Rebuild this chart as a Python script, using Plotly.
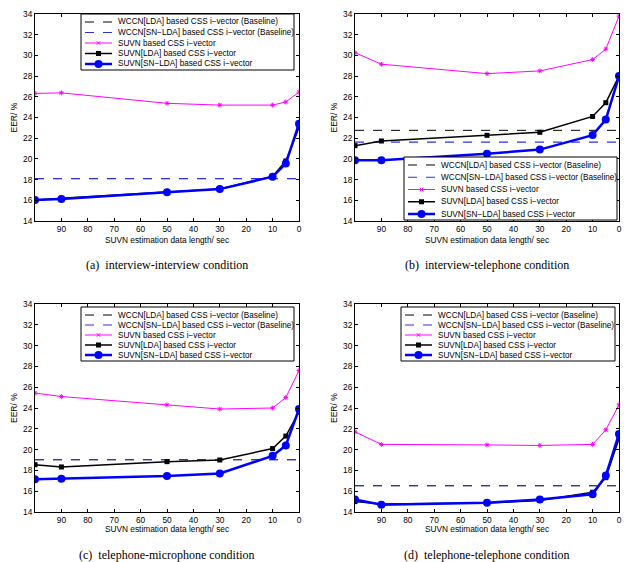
import plotly.graph_objects as go

x = [100, 90, 50, 30, 10, 5, 0]
xticks = [90, 80, 70, 60, 50, 40, 30, 20, 10, 0]
yticks = [14, 16, 18, 20, 22, 24, 26, 28, 30, 32, 34]

names = [
    "WCCN[LDA] based CSS i\u2212vector (Baseline)",
    "WCCN[SN\u2212LDA] based CSS i\u2212vector (Baseline)",
    "SUVN based CSS i\u2212vector",
    "SUVN[LDA] based CSS i\u2212vector",
    "SUVN[SN\u2212LDA] based CSS i\u2212vector",
]

# (a) interview-interview
a_wccn_lda = 18.1
a_wccn_sn = 18.1
a_suvn = [26.33, 26.38, 25.37, 25.2, 25.2, 25.5, 26.45]
a_lda = [16.03, 16.2, 16.8, 17.1, 18.3, 19.8, 23.05]
a_sn = [16.03, 16.12, 16.78, 17.08, 18.28, 19.55, 23.4]

# (b) interview-telephone
b_wccn_lda = 22.76
b_wccn_sn = 21.63
b_suvn = [30.26, 29.15, 28.24, 28.5, 29.6, 30.6, 33.8]
b_lda = [21.28, 21.73, 22.28, 22.57, 24.1, 25.43, 28.0]
b_sn = [19.86, 19.86, 20.5, 20.9, 22.3, 23.8, 28.0]

# (c) telephone-microphone
c_wccn_lda = 19.03
c_wccn_sn = 19.03
c_suvn = [25.44, 25.1, 24.3, 23.9, 24.0, 25.0, 27.6]
c_lda = [18.55, 18.33, 18.84, 19.0, 20.1, 21.3, 23.6]
c_sn = [17.14, 17.2, 17.46, 17.7, 19.4, 20.4, 23.9]

# (d) telephone-telephone
d_wccn_lda = 16.53
d_wccn_sn = 16.53
d_suvn = [21.7, 20.5, 20.45, 20.4, 20.5, 21.9, 24.3]
d_lda = [15.0, 14.77, 14.87, 15.1, 15.9, 17.3, 21.05]
d_sn = [15.2, 14.7, 14.9, 15.2, 15.7, 17.5, 21.5]

captions = [
    "(a)  interview-interview condition",
    "(b)  interview-telephone condition",
    "(c)  telephone-microphone condition",
    "(d)  telephone-telephone condition",
]
xtitle = "SUVN estimation data length/ sec"
ytitle = "EER/ %"

panels = [
    (a_wccn_lda, a_wccn_sn, a_suvn, a_lda, a_sn),
    (b_wccn_lda, b_wccn_sn, b_suvn, b_lda, b_sn),
    (c_wccn_lda, c_wccn_sn, c_suvn, c_lda, c_sn),
    (d_wccn_lda, d_wccn_sn, d_suvn, d_lda, d_sn),
]

W, H = 627, 562
# pixel boxes (left, right, top, bottom)
boxes = [(35, 299, 14, 221), (355, 619, 14, 221), (35, 299, 304, 512), (355, 619, 304, 512)]
legend_boxes = [(81, 14, 294, 70), (404, 157, 617, 220), (81, 307, 294, 361), (401, 307, 615, 361)]
caption_y = [265, 265, 555, 555]
xtitle_y = [240, 240, 529, 529]
ytitle_x = [14, 334, 14, 334]

MAG = "#ff00ff"
BLUE = "#0000ff"
DBLUE = "#3030e0"

font = "Liberation Sans, Arial, sans-serif"
fig = go.Figure()
annotations = []
shapes = []


def px(v):
    return v / W


def py(v):
    return 1 - v / H


for i, (wl, ws, su, ld, sn) in enumerate(panels):
    k = "" if i == 0 else str(i + 1)
    xa, ya = "x" + k, "y" + k
    fig.add_trace(go.Scatter(x=[100, 0], y=[wl, wl], mode="lines", name=names[0],
                             line=dict(color="black", width=1, dash="dash"),
                             xaxis=xa, yaxis=ya, showlegend=False))
    fig.add_trace(go.Scatter(x=[100, 0], y=[ws, ws], mode="lines", name=names[1],
                             line=dict(color=DBLUE, width=1.2, dash="dash"),
                             xaxis=xa, yaxis=ya, showlegend=False))
    fig.add_trace(go.Scatter(x=x, y=su, mode="lines+markers", name=names[2],
                             line=dict(color=MAG, width=1),
                             marker=dict(symbol="asterisk-open", size=4, color=MAG,
                                         line=dict(color=MAG, width=1)),
                             xaxis=xa, yaxis=ya, showlegend=False))
    fig.add_trace(go.Scatter(x=x, y=ld, mode="lines+markers", name=names[3],
                             line=dict(color="black", width=1.5),
                             marker=dict(symbol="square", size=5, color="black"),
                             xaxis=xa, yaxis=ya, showlegend=False))
    fig.add_trace(go.Scatter(x=x, y=sn, mode="lines+markers", name=names[4],
                             line=dict(color=BLUE, width=2.5),
                             marker=dict(symbol="circle", size=8, color=BLUE),
                             xaxis=xa, yaxis=ya, showlegend=False))

    l, r, t, b = boxes[i]
    axcommon = dict(showline=True, linecolor="black", linewidth=1, mirror="allticks",
                    ticks="inside", ticklen=3, tickcolor="black", showgrid=False,
                    zeroline=False, automargin=False, tickfont=dict(size=8.3, family=font))
    fig.update_layout(**{
        "xaxis" + k: dict(axcommon, domain=[px(l), px(r)], range=[100, 0],
                          tickvals=xticks, anchor=ya, ticklabelstandoff=0),
        "yaxis" + k: dict(axcommon, domain=[py(b), py(t)], range=[14, 34],
                          tickvals=yticks, anchor=xa),
    })

    # axis titles
    annotations.append(dict(text=xtitle, x=px((l + r) / 2), y=py(xtitle_y[i]),
                            xref="paper", yref="paper", showarrow=False,
                            xanchor="center", yanchor="middle", font=dict(size=8.3)))
    annotations.append(dict(text=ytitle, x=px(ytitle_x[i]), y=py((t + b) / 2),
                            xref="paper", yref="paper", showarrow=False, textangle=-90,
                            xanchor="center", yanchor="middle", font=dict(size=8.5)))
    # caption
    annotations.append(dict(
        text=captions[i], x=px((l + r) / 2), y=py(caption_y[i]),
        xref="paper", yref="paper", showarrow=False, xanchor="center", yanchor="middle",
        font=dict(family="Liberation Serif, Times New Roman, serif", size=12)))

    # legend (drawn manually for compact MATLAB-style layout)
    L, T, R, B = legend_boxes[i]
    shapes.append(dict(type="rect", xref="paper", yref="paper", x0=px(L), x1=px(R),
                       y0=py(B), y1=py(T), line=dict(color="black", width=1),
                       fillcolor="white", layer="above"))
    hgt = B - T
    s0, s1 = L + 4, L + 31
    sm = (s0 + s1) / 2
    styles = [
        dict(color="black", width=1, dash="dash"),
        dict(color=DBLUE, width=1.2, dash="dash"),
        dict(color=MAG, width=1),
        dict(color="black", width=1.5),
        dict(color=BLUE, width=2.5),
    ]
    for j in range(5):
        ry = T + 8 + j * (hgt - 14) / 4
        shapes.append(dict(type="line", xref="paper", yref="paper", x0=px(s0), x1=px(s1),
                           y0=py(ry), y1=py(ry), line=styles[j], layer="above"))
        if j == 2:
            for dx, dy in [(-1.8, -1.8), (-1.8, 1.8)]:
                shapes.append(dict(type="line", xref="paper", yref="paper",
                                   x0=px(sm + dx), x1=px(sm - dx), y0=py(ry + dy), y1=py(ry - dy),
                                   line=dict(color=MAG, width=1), layer="above"))
        elif j == 3:
            shapes.append(dict(type="rect", xref="paper", yref="paper",
                               x0=px(sm - 2.5), x1=px(sm + 2.5), y0=py(ry + 2.5), y1=py(ry - 2.5),
                               line=dict(color="black", width=0), fillcolor="black", layer="above"))
        elif j == 4:
            shapes.append(dict(type="circle", xref="paper", yref="paper",
                               x0=px(sm - 4), x1=px(sm + 4), y0=py(ry + 4), y1=py(ry - 4),
                               line=dict(color=BLUE, width=0), fillcolor=BLUE, layer="above"))
        annotations.append(dict(text=names[j], x=px(s1 + 4), y=py(ry), xref="paper",
                                yref="paper", showarrow=False, xanchor="left",
                                yanchor="middle", font=dict(size=8.2, family=font)))

fig.update_layout(
    width=W, height=H, margin=dict(l=0, r=0, t=0, b=0),
    paper_bgcolor="white", plot_bgcolor="white",
    font=dict(family=font, size=9, color="black"),
    annotations=annotations, shapes=shapes, showlegend=False,
)
fig.write_html("out.html")
